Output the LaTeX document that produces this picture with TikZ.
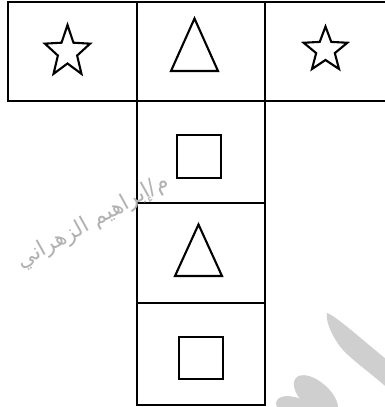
\documentclass[tikz,border=0pt]{standalone}
\usepackage{fontspec}
\newfontfamily\arabicfont[Script=Arabic]{DejaVu Sans}
\TeXXeTstate=1
\begin{document}
\begin{tikzpicture}[x=1pt,y=-1pt,
  cell/.style={draw=black,line width=1.6pt,rectangle,inner sep=0pt},
  shp/.style={draw=black,line width=2.1pt,line join=miter},
  blob/.style={fill=black!19},
  wm/.style={text=black!30,inner sep=0pt}]
\useasboundingbox (0,0) rectangle (385,407);
\clip (0,0) rectangle (385,407);
\fill[white] (0,0) rectangle (385,407);
% cells
\node[cell,minimum width=129pt,minimum height=99pt] (c1) at (72.5,51.5) {};
\node[cell,minimum width=128pt,minimum height=99pt] (c2) at (201,51.5) {};
\node[cell,minimum width=140pt,minimum height=99pt] (c3) at (335,51.5) {};
\node[cell,minimum width=128pt,minimum height=102pt] (r2) at (201,152) {};
\node[cell,minimum width=128pt,minimum height=100pt] (r3) at (201,253) {};
\node[cell,minimum width=128pt,minimum height=102pt] (r4) at (201,354) {};
% stars
\draw[shp,shift={(67.5,52)},xscale=0.88,yscale=-1] (90:27) -- (126:11.5) -- (162:27) -- (198:11.5) -- (234:27) -- (270:11.5) -- (306:27) -- (342:11.5) -- (18:27) -- (54:11.5) -- cycle;
\draw[shp,shift={(325.5,50)},xscale=0.98,yscale=-1] (90:23.5) -- (126:10) -- (162:23.5) -- (198:10) -- (234:23.5) -- (270:10) -- (306:23.5) -- (342:10) -- (18:23.5) -- (54:10) -- cycle;
% triangles
\draw[shp] (194.5,18.5) -- (218,71) -- (171,71) -- cycle;
\draw[shp] (198.5,224.5) -- (222,276) -- (175,276) -- cycle;
% squares
\draw[shp] (177,135) rectangle (221,178);
\draw[shp] (179,337) rectangle (223,379);
% watermark blobs
\fill[blob] (327,313) .. controls (336,316) and (360,338) .. (392,364) -- (392,392) .. controls (372,374) and (352,360) .. (343,350) .. controls (334,340) and (325,322) .. cycle;
\fill[blob,shift={(316,396)},rotate=-42] (0,0) ellipse (27 and 14);
\fill[blob,shift={(296,409)},rotate=-22] (0,0) ellipse (21 and 11);
% watermark text
\node[wm,rotate=29,font=\arabicfont\fontsize{22}{26}\selectfont] (wtext) at (93,222) {\beginR م/إبراهيم الزهراني\endR};
\end{tikzpicture}
\end{document}
